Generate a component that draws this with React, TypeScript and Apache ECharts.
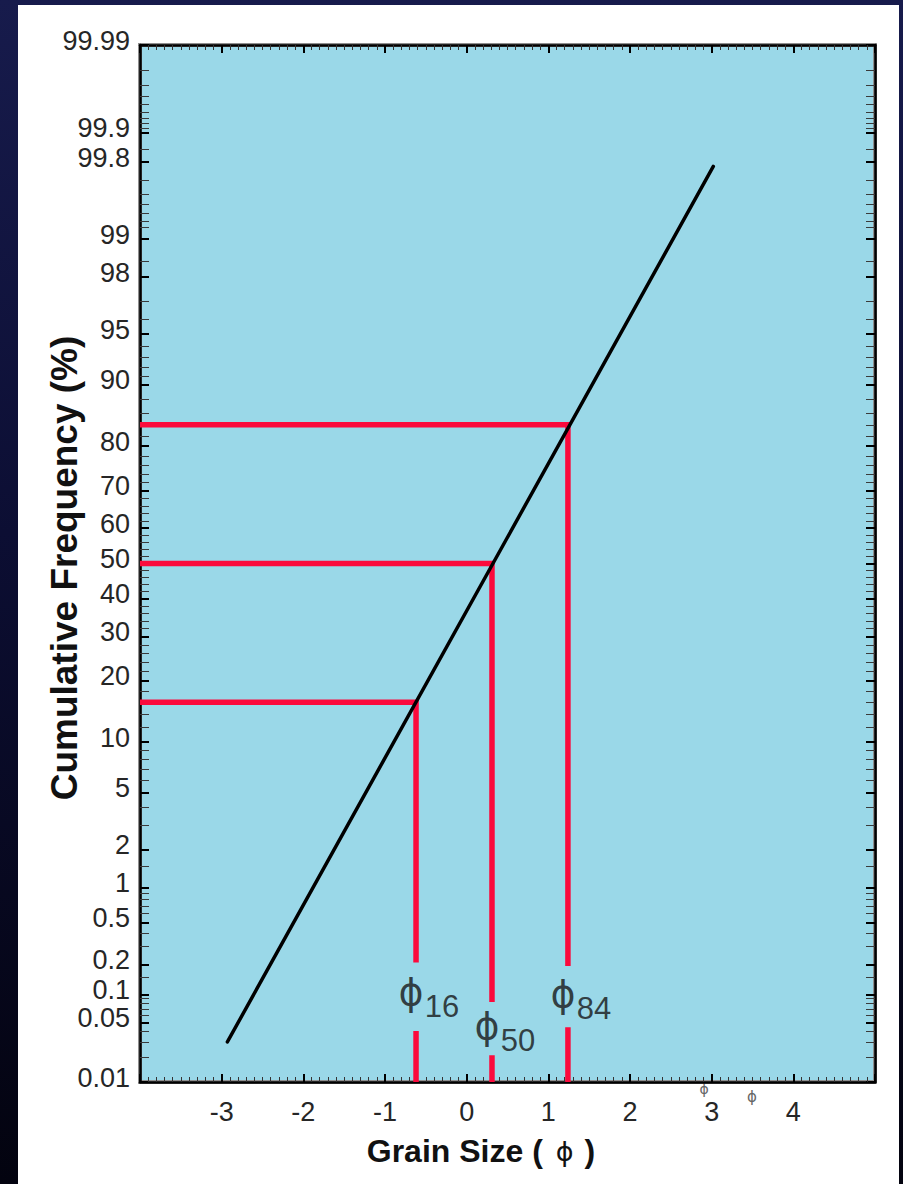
import React, { useEffect, useRef } from "react";
import * as echarts from "echarts";

// ---------- data ----------
const xTickLabels = [-3, -2, -1, 0, 1, 2, 3, 4];
const xRange = [-4, 5];
const yRangePct = [0.01, 99.99];
const yMajorPct = [0.01, 0.05, 0.1, 0.2, 0.5, 1, 2, 5, 10, 20, 30, 40, 50, 60, 70, 80, 90, 95, 98, 99, 99.8, 99.9, 99.99];
const yMajorLabels = ["0.01", "0.05", "0.1", "0.2", "0.5", "1", "2", "5", "10", "20", "30", "40", "50", "60", "70", "80", "90", "95", "98", "99", "99.8", "99.9", "99.99"];
const yMinorPct = [0.02, 0.03, 0.04, 0.06, 0.07, 0.08, 0.09, 0.15, 0.3, 0.4, 0.6, 0.7, 0.8, 0.9, 1.5, 3, 4, 6, 7, 8, 9,
  12, 14, 16, 18, 22, 24, 26, 28, 32, 34, 36, 38, 42, 44, 46, 48, 52, 54, 56, 58, 62, 64, 66, 68, 72, 74, 76, 78,
  82, 84, 86, 88, 91, 92, 93, 94, 96, 97, 98.5, 99.2, 99.3, 99.4, 99.5, 99.6, 99.7, 99.85,
  99.91, 99.92, 99.93, 99.94, 99.95, 99.96, 99.97, 99.98];

// cumulative curve (grain size phi, cumulative %)
const curvePhi = [-2.93, 3.02];
const curvePct = [0.03, 99.78];

// percentile readings
const readPct = [16, 50, 84];
const readPhi = [-0.62, 0.31, 1.24];
const readNames = ["16", "50", "84"];
// where each vertical reading line breaks for its label (cumulative %)
const gapUpperPct = [0.21, 0.083, 0.195];
const gapLowerPct = [0.04, 0.021, 0.044];
// label anchor (cumulative %) for each phi symbol
const labelAnchorPct = [0.106, 0.0455, 0.101];

// ---------- probability scale helper ----------
function probit(pct: number): number {
  const p = pct / 100;
  const a = [-3.969683028665376e1, 2.209460984245205e2, -2.759285104469687e2, 1.38357751867269e2, -3.066479806614716e1, 2.506628277459239];
  const b = [-5.447609879822406e1, 1.615858368580409e2, -1.556989798598866e2, 6.680131188771972e1, -1.328068155288572e1];
  const c = [-7.784894002430293e-3, -3.223964580411365e-1, -2.400758277161838, -2.549671010388263, 4.374664141464968, 2.938163982698783];
  const d = [7.784695709041462e-3, 3.224671290700398e-1, 2.445134137142996, 3.754408661907416];
  const plow = 0.02425;
  if (p < plow) {
    const q = Math.sqrt(-2 * Math.log(p));
    return (((((c[0] * q + c[1]) * q + c[2]) * q + c[3]) * q + c[4]) * q + c[5]) / ((((d[0] * q + d[1]) * q + d[2]) * q + d[3]) * q + 1);
  }
  if (p <= 1 - plow) {
    const q = p - 0.5;
    const r = q * q;
    return ((((((a[0] * r + a[1]) * r + a[2]) * r + a[3]) * r + a[4]) * r + a[5]) * q) / (((((b[0] * r + b[1]) * r + b[2]) * r + b[3]) * r + b[4]) * r + 1);
  }
  const q = Math.sqrt(-2 * Math.log(1 - p));
  return -(((((c[0] * q + c[1]) * q + c[2]) * q + c[3]) * q + c[4]) * q + c[5]) / ((((d[0] * q + d[1]) * q + d[2]) * q + d[3]) * q + 1);
}

const FONT = "'Liberation Sans', Arial, Helvetica, sans-serif";
const RED = "#fb0a3c";
const TICK_FONT = 27;

export default function App() {
  const ref = useRef<HTMLDivElement>(null);

  useEffect(() => {
    if (!ref.current) return;
    const chart = echarts.init(ref.current, null, { renderer: "svg" });

    const zMin = probit(yRangePct[0]);
    const zMax = probit(yRangePct[1]);
    const majorZ = yMajorPct.map(probit);
    const minorZ = yMinorPct.map(probit);
    const labelFor = (v: number) => {
      let best = 0;
      let bd = Infinity;
      majorZ.forEach((z, i) => {
        const dd = Math.abs(z - v);
        if (dd < bd) { bd = dd; best = i; }
      });
      return bd < 1e-4 ? "{t|" + yMajorLabels[best] + "}" : "";
    };

    const baseX = (pos: "bottom" | "top", labels: boolean) => ({
      type: "value",
      position: pos,
      min: xRange[0],
      max: xRange[1],
      interval: 1,
      splitLine: { show: false },
      axisLine: { show: true, onZero: false, lineStyle: { color: "#000", width: 2.5 } },
      axisTick: { show: true, inside: true, length: 8, lineStyle: { color: "#000", width: 2 } },
      minorTick: { show: true, splitNumber: 10, length: 5, lineStyle: { color: "#333", width: 1 } },
      minorSplitLine: { show: false },
      axisLabel: {
        show: labels,
        margin: 16,
        fontSize: TICK_FONT,
        lineHeight: TICK_FONT,
        fontFamily: FONT,
        color: "#262626",
        formatter: (v: number) => (xTickLabels.indexOf(v) >= 0 ? String(v) : ""),
      },
    });

    const baseY = (pos: "left" | "right", major: boolean, labels: boolean) => ({
      type: "value",
      position: pos,
      min: zMin,
      max: zMax,
      splitLine: { show: false },
      axisLine: { show: major, onZero: false, lineStyle: { color: "#000", width: 2.5 } },
      axisTick: {
        show: true,
        inside: true,
        length: 9,
        customValues: major ? majorZ : minorZ,
        lineStyle: { color: major ? "#000" : "#3a3a3a", width: major ? 2 : 1 },
      },
      axisLabel: {
        show: labels,
        customValues: majorZ,
        margin: 10,
        fontSize: TICK_FONT,
        fontFamily: FONT,
        color: "#262626",
        showMinLabel: true,
        showMaxLabel: true,
        formatter: (v: number) => labelFor(v),
        rich: {
          t: { fontSize: TICK_FONT, lineHeight: TICK_FONT, fontFamily: FONT, color: "#262626", padding: [0, 0, 9, 0] },
        },
      },
    });

    const series: any[] = [];
    readPct.forEach((p, i) => {
      const z = probit(p);
      series.push({
        type: "line",
        name: "reading" + readNames[i],
        xAxisIndex: 0,
        yAxisIndex: 0,
        showSymbol: false,
        z: 3,
        lineStyle: { color: RED, width: 5.5, join: "miter", cap: "butt" },
        data: [[xRange[0], z], [readPhi[i], z], [readPhi[i], probit(gapUpperPct[i])]],
      });
      series.push({
        type: "line",
        name: "readingLow" + readNames[i],
        xAxisIndex: 0,
        yAxisIndex: 0,
        showSymbol: false,
        z: 3,
        lineStyle: { color: RED, width: 5.5, cap: "butt" },
        data: [[readPhi[i], probit(gapLowerPct[i])], [readPhi[i], zMin]],
      });
    });
    series.push({
      type: "line",
      name: "cumulative",
      xAxisIndex: 0,
      yAxisIndex: 0,
      showSymbol: false,
      z: 4,
      lineStyle: { color: "#000", width: 3.5, cap: "round" },
      data: curvePhi.map((x, i) => [x, probit(curvePct[i])]),
    });
    const labelData: any[] = [];
    readPhi.forEach((x, i) => {
      const z = probit(labelAnchorPct[i]);
      labelData.push({
        value: [x, z],
        label: { formatter: "\u03d5", offset: [-5, 0], fontSize: 38, fontFamily: "'DejaVu Sans', sans-serif", color: "#151515" },
      });
      labelData.push({
        value: [x, z],
        label: { formatter: readNames[i], offset: [26, 15], fontSize: 31, fontFamily: FONT, color: "#151515" },
      });
    });
    series.push({
      type: "scatter",
      name: "phiLabels",
      xAxisIndex: 0,
      yAxisIndex: 0,
      symbolSize: 1,
      z: 5,
      itemStyle: { color: "rgba(0,0,0,0)" },
      label: { show: true, position: "inside" },
      data: labelData,
    });

    chart.setOption({
      animation: false,
      grid: {
        left: 122,
        top: 40,
        width: 735,
        height: 1037,
        show: true,
        backgroundColor: "#9ad8e8",
        borderColor: "#8f8f8f",
        borderWidth: 4,
        containLabel: false,
      },
      xAxis: [baseX("bottom", true), baseX("top", false)],
      yAxis: [baseY("left", true, true), baseY("left", false, false), baseY("right", true, false), baseY("right", false, false)],
      graphic: [
        {
          type: "text",
          x: 46,
          y: 563,
          rotation: Math.PI / 2,
          style: {
            text: "Cumulative Frequency (%)",
            fontSize: 37,
            fontWeight: "bold",
            fontFamily: FONT,
            fill: "#111",
            align: "center",
            verticalAlign: "middle",
          },
        },
        {
          type: "text",
          x: 463,
          y: 1146,
          style: {
            text: "{b|Grain Size (}{p|\u03d5}{b|)}",
            align: "center",
            verticalAlign: "middle",
            rich: {
              b: { fontSize: 32, fontWeight: "bold", fontFamily: FONT, fill: "#111", color: "#111" },
              p: { fontSize: 27, fontFamily: "'DejaVu Sans', sans-serif", fill: "#111", color: "#111", padding: [0, 11, 0, 13] },
            },
          },
        },
        {
          type: "text",
          x: 686,
          y: 1084,
          style: { text: "\u03d5", fontSize: 14, lineHeight: 14, fontFamily: "'DejaVu Sans', sans-serif", fill: "#666", align: "center", verticalAlign: "middle" },
        },
        {
          type: "text",
          x: 734,
          y: 1092,
          style: { text: "\u03d5", fontSize: 15, lineHeight: 15, fontFamily: "'DejaVu Sans', sans-serif", fill: "#666", align: "center", verticalAlign: "middle" },
        },
      ],
      series,
    });

    return () => chart.dispose();
  }, []);

  return (
    <div
      style={{
        position: "fixed",
        left: 0,
        top: 0,
        width: 903,
        height: 1184,
        background: "linear-gradient(180deg, #171b4c 0%, #0c0e33 45%, #03030f 100%)",
        overflow: "hidden",
      }}
    >
      <div
        ref={ref}
        style={{ position: "absolute", left: 18, top: 5, width: 881, height: 1179, background: "#ffffff" }}
      />
    </div>
  );
}
